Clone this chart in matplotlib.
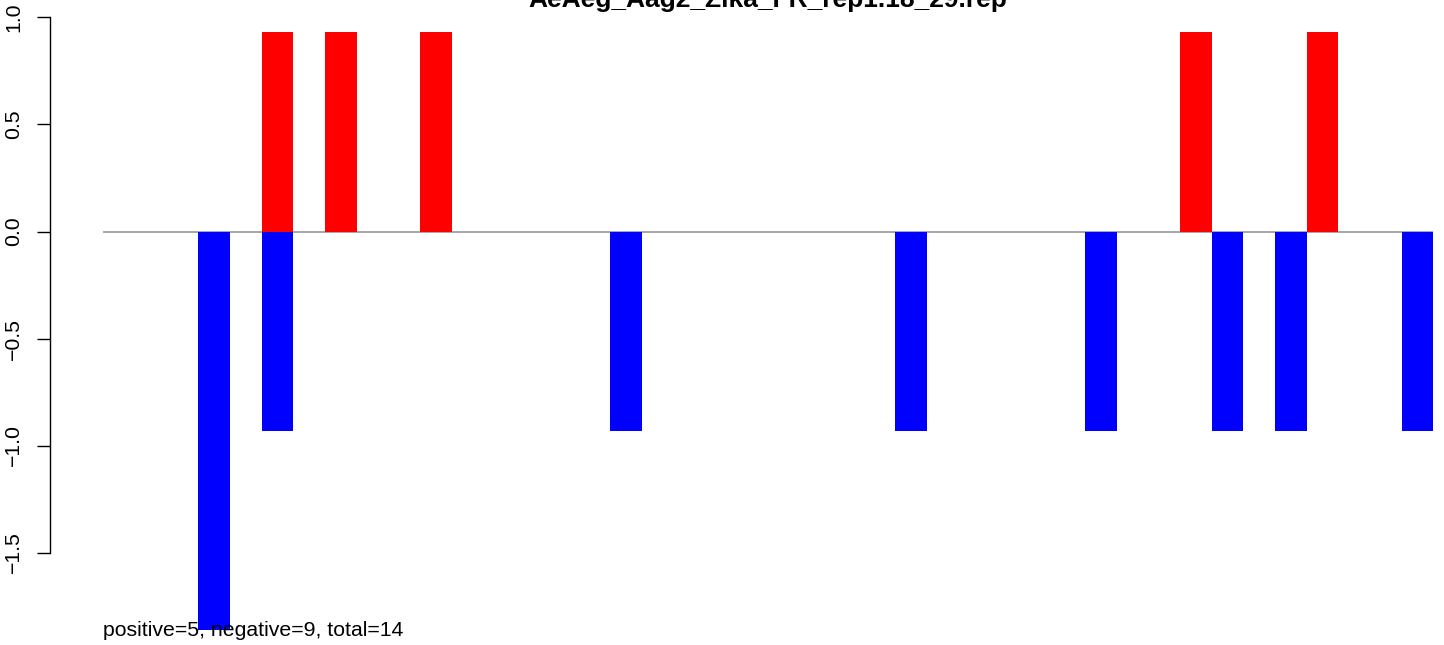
####################################### READ COVERAGE PLOT #######################################

import matplotlib
matplotlib.use("Agg")
import matplotlib.pyplot as plt

plt.rcParams['font.family'] = ['Liberation Sans', 'DejaVu Sans']

# Data
title = "AeAeg_Aag2_Zika_FR_rep1.18_29.rep"
region = [0, 42]                          # extent of the baseline
pos_x = [5, 7, 10, 34, 38]                # left edges of positive (sense) bars
pos_h = [0.932, 0.932, 0.932, 0.932, 0.932]
neg_x = [3, 5, 16, 25, 31, 35, 37, 41]    # left edges of negative (antisense) bars
neg_h = [-1.864, -0.932, -0.932, -0.932, -0.932, -0.932, -0.932, -0.932]
yticks = [-1.5, -1.0, -0.5, 0.0, 0.5, 1.0]


def plot_coverage():

    W, H, dpi = 1444, 645, 100
    fig = plt.figure(figsize=(W / dpi, H / dpi), dpi=dpi)

    # plot region in pixels (R style, with 4% extension on x)
    unit = 31.66
    x0_px = 103.5
    span = region[1] - region[0]
    xlim = (region[0] - 0.04 * span, region[1] + 0.04 * span)
    left_px = x0_px + (xlim[0] - region[0]) * unit
    width_px = (xlim[1] - xlim[0]) * unit

    zero_px, k = 231.5, 214.0
    ylim = ((zero_px - H) / k, zero_px / k)

    ax = fig.add_axes([left_px / W, 0, width_px / W, 1])
    ax.set_xlim(*xlim)
    ax.set_ylim(*ylim)
    ax.patch.set_visible(False)

    ax.hlines(0, region[0], region[1], color='#A6A6A6', lw=1.4, zorder=1)
    ax.bar(pos_x, pos_h, width=1, align='edge', color='#FF0000', lw=0, zorder=2, clip_on=False)
    ax.bar(neg_x, neg_h, width=1, align='edge', color='#0000FF', lw=0, zorder=2, clip_on=False)

    for s in ['top', 'right', 'bottom']:
        ax.spines[s].set_visible(False)
    ax.spines['left'].set_bounds(yticks[0], yticks[-1])
    ax.spines['left'].set_linewidth(1.0)
    ax.set_xticks([])
    ax.set_yticks(yticks)
    ax.set_yticklabels([f"{t:.1f}".replace('-', '\u2212') for t in yticks],
                       rotation=90, va='center', fontsize=15.3)
    ax.tick_params(axis='y', length=9.4, width=1.0, pad=10)

    n_pos = len(pos_h)
    n_neg = int(round(-sum(neg_h) / pos_h[0]))
    ax.text(region[0], (zero_px - 636) / k,
            f"positive={n_pos}, negative={n_neg}, total={n_pos + n_neg}",
            ha='left', va='baseline', fontsize=15.3, zorder=3)

    fig.text(767.5 / W, 1 - 7.3 / H, title, ha='center', va='baseline',
             fontsize=19, fontweight='bold')

    fig.savefig("out.png", dpi=dpi)


if __name__ == '__main__':
    plot_coverage()
